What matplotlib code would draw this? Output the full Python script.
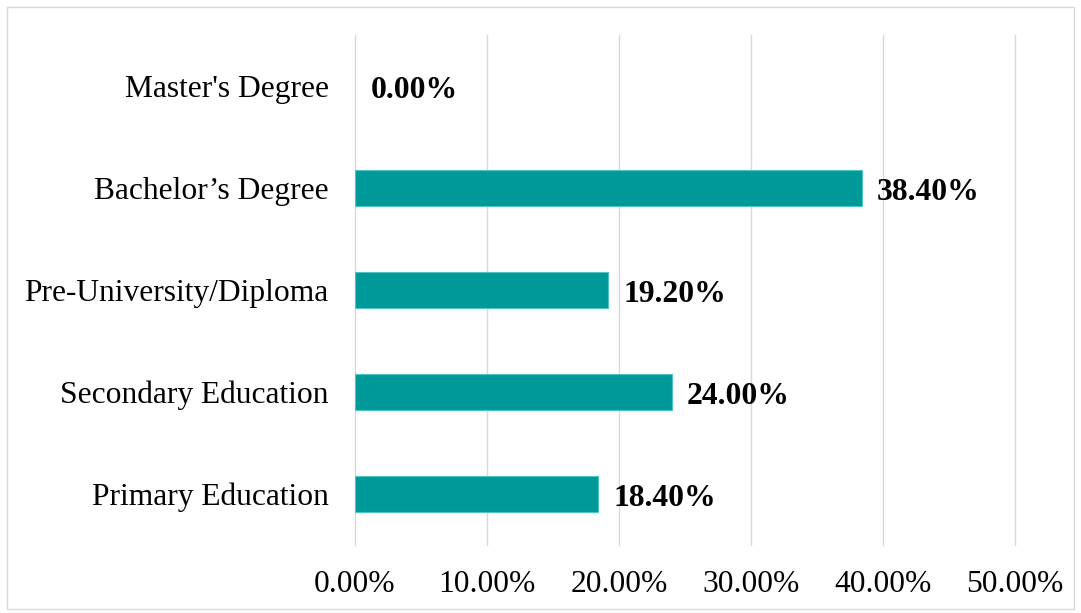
import matplotlib.pyplot as plt
from matplotlib.patches import Rectangle
from matplotlib.ticker import FuncFormatter

# data
categories = ["Primary Education", "Secondary Education", "Pre-University/Diploma",
              "Bachelor\u2019s Degree", "Master's Degree"]
values = [18.40, 24.00, 19.20, 38.40, 0.00]

plt.rcParams['font.family'] = ['Liberation Serif', 'DejaVu Serif']

fig = plt.figure(figsize=(10.81, 6.13), dpi=100)
ax = fig.add_axes([355 / 1081, 68 / 613, 660 / 1081, 510 / 613])

bars = ax.barh(range(len(categories)), values, height=0.35, color='#009999',
               edgecolor='#4fc4c4', linewidth=0.8, zorder=3)
for b, v in zip(bars, values):
    if v == 0:
        b.set_linewidth(0)

for i, v in enumerate(values):
    ax.annotate(f"{v:.2f}%", xy=(v, i), xytext=(11, -3.5), textcoords='offset points',
                va='center', ha='left', fontsize=22.8, fontweight='bold', zorder=4)

ax.set_xlim(0, 50)
ax.set_ylim(-0.5, len(categories) - 0.5)
ax.set_xticks([0, 10, 20, 30, 40, 50])
ax.xaxis.set_major_formatter(FuncFormatter(lambda x, _: f"{x:.2f}%"))
ax.set_yticks(range(len(categories)))
ax.set_yticklabels(categories)
ax.tick_params(axis='both', length=0, labelsize=22.7)
ax.tick_params(axis='y', pad=19)
ax.tick_params(axis='x', pad=18)
ax.grid(axis='x', color='#d9d9d9', linewidth=1, zorder=0)
for gl in ax.get_xgridlines():
    gl.set_clip_on(False)
for s in ax.spines.values():
    s.set_visible(False)

# outer border of the chart area
fig.patches.append(Rectangle((7 / 1081, 4 / 613), 1067 / 1081, 602 / 613,
                             transform=fig.transFigure, fill=False,
                             edgecolor='#d9d9d9', linewidth=1))

fig.savefig("out.png", dpi=100)
